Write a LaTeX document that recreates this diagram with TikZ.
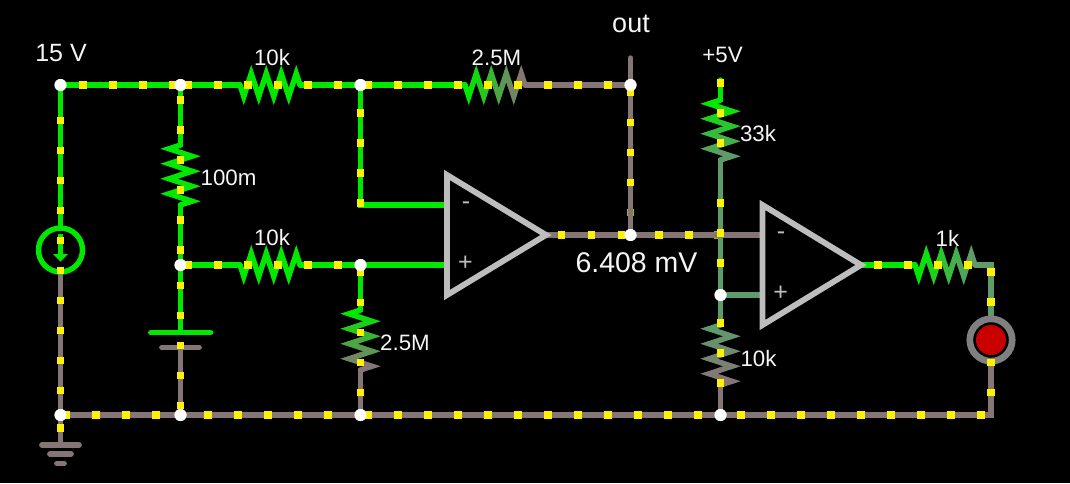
\documentclass[tikz,border=0pt]{standalone}
\usepackage{fontspec}
\setmainfont{Liberation Sans}
\definecolor{wgreen}{HTML}{00E800}
\definecolor{wgrey}{HTML}{857575}
\definecolor{wdark}{HTML}{5F9A6A}
\definecolor{opgrey}{HTML}{BDBDBD}
\definecolor{ledred}{HTML}{C80000}
\definecolor{dotdim}{HTML}{B4B400}
\pgfdeclarelayer{wires}
\pgfsetlayers{wires,main}
\tikzset{
  wire/.style={line width=5.4pt,line cap=round},
  gnw/.style={wire,draw=wgreen},
  grw/.style={wire,draw=wgrey},
  dkw/.style={wire,draw=wdark},
  plate/.style={line width=5.8pt,line cap=round},
  opamp/.style={draw=opgrey,line width=5.8pt,miter limit=10,line join=miter},
  rline/.style={line width=5.4pt,line join=miter,miter limit=10,line cap=round},
  junc/.style={circle,fill=white,inner sep=0pt,minimum size=12pt},
  lab/.style={text=white!96!black,inner sep=0pt,font=\fontsize{22.3}{26}\selectfont},
  biglab/.style={lab,font=\fontsize{25}{30}\selectfont},
  pin/.style={text=opgrey,inner sep=0pt,font=\fontsize{25}{28}\selectfont}
}
% zigzag resistor: name, x, y, ux, uy, colour A, colour B
\newcommand{\zigres}[7]{%
  \coordinate (#1a) at (#2,#3);
  \coordinate (#1b) at ({#2+60*#4},{#3+60*#5});
  \foreach \i in {0,...,7}{%
    \pgfmathsetmacro{\pct}{100-100*\i/7}%
    \pgfmathsetmacro{\sg}{mod(\i,2)==0?1:-1}%
    \pgfmathsetmacro{\ao}{7.5*\i}%
    \pgfmathsetmacro{\am}{7.5*\i+3.75}%
    \pgfmathsetmacro{\ae}{7.5*\i+7.5}%
    \draw[rline,draw={#6!\pct!#7}]
      ({#2+\ao*#4},{#3+\ao*#5})
      -- ({#2+\am*#4-\sg*11.5*#5},{#3+\am*#5+\sg*11.5*#4})
      -- ({#2+\ae*#4},{#3+\ae*#5});
  }%
}
\newcommand{\dotsq}[2]{\fill[yellow] (#1-3.8,#2-3.8) rectangle (#1+3.8,#2+3.8);}
\begin{document}
\begin{tikzpicture}[x=1pt,y=-1pt]
\useasboundingbox (0,0) rectangle (1070,483);
% junctions and free ends
\node[junc] (ja) at (60.5,85) {};
\node[junc] (jb) at (180.5,85) {};
\node[junc] (jc) at (360.5,85) {};
\node[junc] (jd) at (630.5,85) {};
\node[junc] (je) at (180.5,265) {};
\node[junc] (jf) at (360.5,265) {};
\node[junc] (jg) at (630.5,235) {};
\node[junc] (jh) at (720.5,295) {};
\node[junc] (ji) at (60.5,415) {};
\node[junc] (jj) at (180.5,415) {};
\node[junc] (jk) at (360.5,415) {};
\node[junc] (jl) at (720.5,415) {};
\coordinate (outend) at (630.5,58);
\coordinate (vtop) at (720.5,80);
\coordinate (cross) at (720.5,235);
\coordinate (under) at (720.5,175);
\coordinate (corner) at (991,265);
\coordinate (cornerb) at (991,415);
\coordinate (a1m) at (447,205);
\coordinate (a1p) at (447,265);
\coordinate (a1o) at (546,235);
\coordinate (a2m) at (762.5,235);
\coordinate (a2p) at (762.5,295);
\coordinate (a2o) at (861,265);
\coordinate (turn) at (360.5,205);
\coordinate (gndbar) at (60.5,445);
\coordinate (batA) at (180.5,332.5);
\coordinate (batB) at (180.5,347.5);
% current source, LED
\node[circle,draw=wgreen,line width=5.4pt,inner sep=0pt,minimum size=44pt] (src) at (60.5,250) {};
\node[circle,draw=gray,line width=6.7pt,fill=black,inner sep=0pt,minimum size=42.4pt] (led) at (991,340) {};
\node[circle,fill=ledred,inner sep=0pt,minimum size=30pt] at (led.center) {};
% resistors
\zigres{ra}{240}{85}{1}{0}{wgreen}{wgreen}
\zigres{rb}{465}{85}{1}{0}{wgreen}{wgrey}
\zigres{rc}{180.5}{145}{0}{1}{wgreen}{wgreen}
\zigres{rd}{240}{265}{1}{0}{wgreen}{wgreen}
\zigres{re}{360.5}{310}{0}{1}{wgreen}{wgrey}
\zigres{rf}{720.5}{100}{0}{1}{wgreen}{wdark}
\zigres{rg}{720.5}{325}{0}{1}{wdark}{wgrey}
\zigres{rh}{915}{265}{1}{0}{wgreen}{wdark}
% wires below everything
\begin{pgfonlayer}{wires}
\fill[black] (0,0) rectangle (1070,483);
\fill[dotdim] (630.5-3.8,212.5-3.8) rectangle (630.5+3.8,212.5+3.8);
\fill[dotdim] (718-3.8,235-3.8) rectangle (718+3.8,235+3.8);
\draw[gnw] (ja) -- (jb);
\draw[gnw] (jb) -- (raa);
\draw[gnw] (rab) -- (jc);
\draw[gnw] (jc) -- (rba);
\draw[grw] (rbb) -- (jd);
\draw[grw] (outend) -- (jd);
\draw[grw] (jd) -- (jg);
\draw[gnw] (ja) -- (src);
\draw[grw] (src) -- (ji);
\draw[gnw] (jb) -- (rca);
\draw[gnw] (rcb) -- (je);
\draw[gnw] (je) -- (rda);
\draw[gnw] (rdb) -- (jf);
\draw[gnw] (jf) -- (rea);
\draw[grw] (reb) -- (jk);
\draw[gnw] (jc) -- (turn) -- (a1m);
\draw[gnw] (jf) -- (a1p);
\draw[grw] (a1o) -- (jg);
\draw[grw] (jg) -- (cross) -- (a2m);
\draw[gnw] (vtop) -- (rfa);
\draw[dkw] (rfb) -- (under);
\draw[gnw] (je) -- (batA);
\draw[grw] (batB) -- (jj);
\draw[grw] (ji) -- (jj);
\draw[grw] (jj) -- (jk);
\draw[grw] (jk) -- (jl);
\draw[grw] (jl) -- (cornerb) -- (led);
\draw[grw] (ji) -- (gndbar);
\draw[dkw] (under) -- (cross);
\draw[dkw] (cross) -- (jh);
\draw[dkw] (jh) -- (a2p);
\draw[dkw] (jh) -- (rga);
\draw[grw] (rgb) -- (jl);
\draw[gnw] (a2o) -- (rha);
\draw[dkw] (rhb) -- (corner) -- (led);
\end{pgfonlayer}
% battery and ground plates
\draw[plate,draw=wgreen] (151,332.5) -- (batA) -- (210.5,332.5);
\draw[plate,draw=wgrey] (162,347.5) -- (batB) -- (199,347.5);
\draw[plate,draw=wgrey] (42,445) -- (gndbar) -- (79,445);
\draw[plate,draw=wgrey] (50,454) -- (71,454);
\draw[plate,draw=wgrey] (57,463.5) -- (64,463.5);
% source arrow
\draw[line width=4.8pt,draw=wgreen] (60.5,234) -- (60.5,255);
\fill[wgreen] (53,254) -- (68,254) -- (60.5,261.5) -- cycle;
% op amps
\draw[opamp] (447,175) -- (447,295) -- (546,235) -- cycle;
\draw[opamp] (762.5,205) -- (762.5,325) -- (861,265) -- cycle;
\node[pin] (m1) at (466,206) {-};
\node[pin] (p1) at (465.5,263.5) {+};
\node[pin] (m2) at (781,236) {-};
\node[pin] (p2) at (780.7,293) {+};
% current dots
\foreach \x in {83,113,143,173,188,218,248,278,308,338,368,398,428,458,488,518,548,578,608}{\dotsq{\x}{85}}
\foreach \x in {188,218,248,278,308,338}{\dotsq{\x}{265}}
\foreach \x in {66,96,126,156,208,238,268,298,328,368,398,428,458,488,518,548,578,608,638,668,698,741,771,801,831,861,891,921,951,981}{\dotsq{\x}{415}}
\foreach \y in {120.5,150.5,180.5,210.5,240.5,270.5,300.5,330.5,360.5,390.5,428}{\dotsq{60.5}{\y}}
\foreach \y in {100,130,160,190,220,250,285.5,315.5,345.5,375.5,405.5}{\dotsq{180.5}{\y}}
\foreach \y in {113,143,173,203,272,302.5,332.5,362.5,392.5}{\dotsq{360.5}{\y}}
\foreach \y in {92.5,122.5,152.5,182.5}{\dotsq{630.5}{\y}}
\foreach \x in {561.5,591.5,621.5,659,689}{\dotsq{\x}{235}}
\foreach \y in {83,113,143,203,233,263,323,353,383}{\dotsq{720.5}{\y}}
\foreach \x in {878,908,938,968}{\dotsq{\x}{265}}
\foreach \y in {272,302,362.5,392.5}{\dotsq{991}{\y}}
% the junctions are placed first but must stay on top: repaint
\foreach \n in {ja,jb,jc,jd,je,jf,jg,jh,ji,jj,jk,jl}{\fill[white] (\n) circle (6);}
% labels
\node[biglab] (l15) at (61,53) {15 V};
\node[biglab,font=\fontsize{27}{30}\selectfont] (lout) at (631,24) {out};
\node[lab] (l5v) at (722.5,55) {+5V};
\node[lab] (lr1) at (272,58) {10k};
\node[lab] (lr2) at (496.5,58) {2.5M};
\node[lab] (lr3) at (228.5,178) {100m};
\node[lab] (lr4) at (272,238) {10k};
\node[lab] (lr5) at (405,343) {2.5M};
\node[lab] (lr6) at (758,134) {33k};
\node[lab] (lr7) at (758.5,359) {10k};
\node[lab] (lr8) at (947.5,238) {1k};
\node[biglab,font=\fontsize{28.5}{32}\selectfont] (lv) at (636.5,263) {6.408 mV};
\end{tikzpicture}
\end{document}
